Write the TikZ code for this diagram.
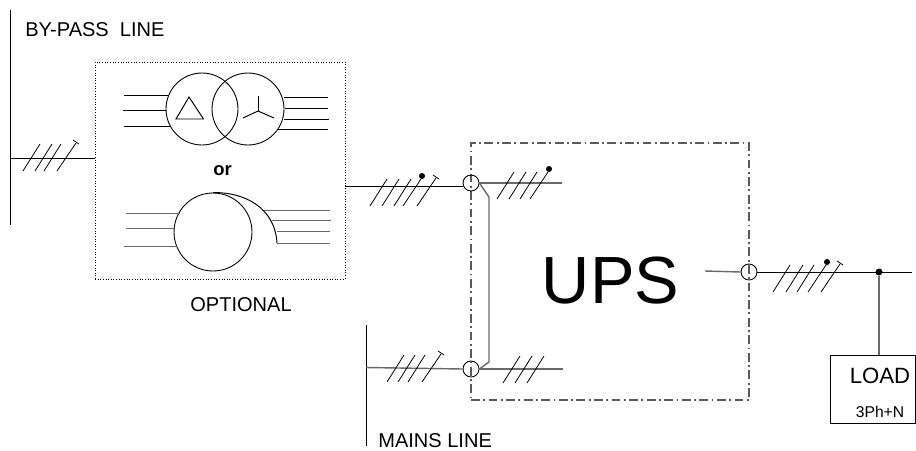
\documentclass[tikz,border=0pt]{standalone}
\usepackage{fontspec}
\setmainfont{Liberation Sans}
\usepackage{xcolor}
\definecolor{busgray}{RGB}{105,105,105}
\definecolor{framegray}{RGB}{90,90,90}
\usetikzlibrary{calc}
\tikzset{>=stealth}
\tikzset{%
    wire/.style={line width=0.55pt},
    graywire/.style={line width=0.8pt,draw=busgray},
    phasetick/.style={line width=0.45pt},
    brk/.style={circle,draw,line width=0.5pt,fill=none,inner sep=0pt,minimum size=0.32cm},
    winding/.style={circle,draw,line width=0.5pt,inner sep=0pt,minimum size=1.44cm},
    optframe/.style={draw,densely dotted,line width=0.5pt,inner sep=0pt,minimum width=5cm,minimum height=4.34cm},
    upsframe/.style={draw=framegray,dash pattern=on 5pt off 2pt on 1pt off 2pt,line width=0.7pt,inner sep=0pt,minimum width=5.56cm,minimum height=5.14cm},
    txt/.style={font=\fontsize{11.4}{13}\selectfont,inner sep=0pt},
    junction/.style={circle,fill,inner sep=0pt,minimum size=0.14cm}
}
% phase marks: plain slash, slash with neutral dot, slash with T end
\newcommand{\phaseslash}[2]{\draw[phasetick] (#1,#2) -- ++(17,-27);}
\newcommand{\phasedot}[2]{\draw[phasetick] (#1,#2) -- ++(18,-27); \fill ($(#1,#2)+(19,-30)$) circle (3);}
\newcommand{\phasetee}[2]{\draw[phasetick] (#1,#2) -- ++(19,-28); \draw[phasetick] ($(#1,#2)+(16,-31)$) -- ++(6,4);}
\begin{document}
\begin{tikzpicture}[x=0.02cm,y=-0.02cm]
    \useasboundingbox (0,0) rectangle (916,450);

    % by-pass side
    \coordinate (bypasstop) at (10,10);
    \coordinate (bypassbot) at (10,225);
    \coordinate (bypasstap) at (10,158);
    \draw[wire] (bypasstop) -- (bypassbot);
    \node[txt,anchor=west] (bypasslabel) at (25,30) {BY-PASS\ \ LINE};

    % optional transformer box
    \node[optframe] (optbox) at (220,170.5) {};
    \draw[wire] (bypasstap) -- (bypasstap -| optbox.west);
    \foreach \x/\y in {23/171,35/171,44/171} {\phaseslash{\x}{\y}}
    \phasetee{57}{171}

    \node[winding] (primary) at (202,109) {};
    \node[winding] (secondary) at (248,109) {};
    \foreach \y/\xa/\xb in {95/124/168,110/123/166,126/124/171} {
        \draw[wire] (\xa,\y) -- (\xb,\y);
    }
    \foreach \xa/\y/\xb in {284/97/328,285/108/328,284/119/329,278/129.5/328} {
        \draw[wire] (\xa,\y) -- (\xb,\y);
    }
    \draw[wire] (189,97) -- (176,119) -- (203.5,119) -- cycle;
    \draw[wire] (258,111) -- (258,96);
    \draw[wire] (258,111) -- (243,118);
    \draw[wire] (258,111) -- (274,118);
    \node[inner sep=0pt,font=\fontsize{10.5}{12}\selectfont\bfseries] (orlabel) at (222.5,171) {or};

    \node[winding,minimum size=1.56cm] (auto) at (213,232) {};
    \foreach \y/\xa/\xb in {213/126/180,228/126/174,246/124/177} {
        \draw[wire,busgray] (\xa,\y) -- (\xb,\y);
    }
    \foreach \xa/\y/\xb in {262/210/330,272/220/331,277/231/330,277/243/330} {
        \draw[wire,busgray] (\xa,\y) -- (\xb,\y);
    }
    \draw[wire] (auto.north) .. controls (245,192) and (275,208) .. (277,243);
    \node[txt] (optlabel) at (241,305) {OPTIONAL};

    % UPS box
    \node[upsframe] (upsbox) at (610,271.5) {};
    \node[inner sep=0pt,font=\fontsize{38}{44}\selectfont] (upslabel) at (610.5,281) {UPS};

    % breakers on the frame
    \node[brk] (brktop) at (471,183) {};
    \node[brk] (brkbot) at (471,369) {};
    \node[brk] (brkout) at (749,272) {};

    % input from optional box
    \coordinate (optout) at (345,186);
    \draw[wire] (optout) -- (463,186);
    \foreach \x in {370,382,394} {\phaseslash{\x}{206}}
    \phasedot{403}{206}
    \phasetee{417}{206}

    % internal bus, top
    \coordinate (topend) at (562,183);
    \draw[graywire] (brktop.east) -- (topend);
    \foreach \x in {497,509,520} {\phaseslash{\x}{199}}
    \phasedot{530}{199}

    % by-pass link inside UPS
    \coordinate (linka) at (489,197);
    \coordinate (linkb) at (489,362);
    \draw[graywire] (brktop.east) -- (linka) -- (linkb) -- (brkbot.east);

    % mains side
    \coordinate (mainstop) at (366,325);
    \coordinate (mainsbot) at (366,446);
    \coordinate (mainstap) at (366,367.5);
    \draw[wire] (mainstop) -- (mainsbot);
    \draw[graywire] (mainstap) -- (brkbot.west);
    \foreach \x/\y in {387/382,398/382,408/382} {\phaseslash{\x}{\y}}
    \phasetee{422}{382}
    \node[txt,anchor=west] (mainslabel) at (378,441) {MAINS LINE};

    \coordinate (botend) at (563,369);
    \draw[graywire] (brkbot.east) -- (botend);
    \foreach \x in {503,515,527} {\phaseslash{\x}{383}}

    % output and load
    \coordinate (outstart) at (705,271);
    \coordinate (outend) at (912,272);
    \draw[graywire] (outstart) -- (brkout.west);
    \draw[wire] (brkout.east) -- (outend);
    \foreach \x in {773,786,797} {\phaseslash{\x}{292}}
    \phasedot{808}{292}
    \phasetee{821}{292}

    \node[junction] (outdot) at (879,272) {};
    \node[draw,wire,inner sep=0pt,minimum width=1.7cm,minimum height=1.36cm] (loadbox) at (872.5,389) {};
    \draw[graywire] (outdot) -- (outdot |- loadbox.north);
    \node[inner sep=0pt,font=\fontsize{12.6}{14}\selectfont] (loadlabel) at (880,376) {LOAD};
    \node[inner sep=0pt,font=\fontsize{8.9}{10}\selectfont] (phlabel) at (880,412) {3Ph+N};
\end{tikzpicture}
\end{document}
